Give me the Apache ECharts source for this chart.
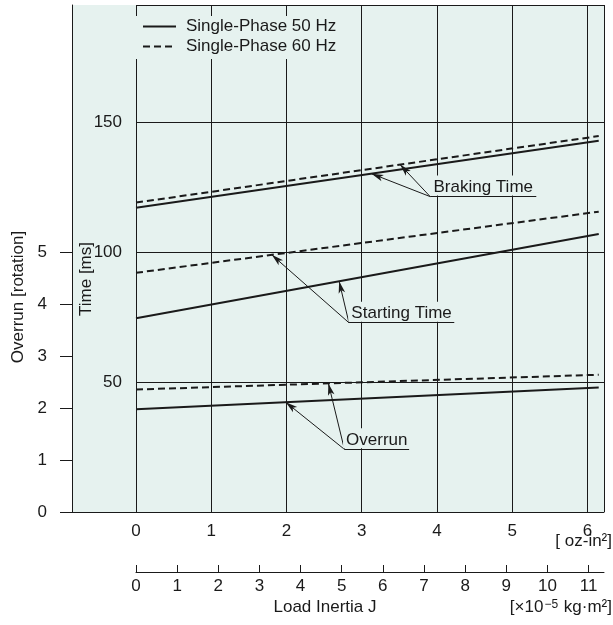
<!DOCTYPE html>
<html>
<head>
<meta charset="utf-8">
<script src="https://cdn.jsdelivr.net/npm/echarts@6/dist/echarts.min.js"></script>
<style>
html,body{margin:0;padding:0;background:#fff;}
#chart{width:613px;height:625px;}
</style>
</head>
<body>
<div id="chart"></div>
<script>
// ---------- data ----------
const inertiaOz = [0, 6.15];               // load inertia J [oz-in^2]
const braking50 = [117.0, 142.8];          // braking time [ms], 50 Hz
const braking60 = [119.0, 144.6];          // braking time [ms], 60 Hz
const starting50 = [74.5, 106.9];          // starting time [ms], 50 Hz
const starting60 = [92.0, 115.5];          // starting time [ms], 60 Hz
const overrun50 = [1.98, 2.40];            // overrun [rotation], 50 Hz
const overrun60 = [2.36, 2.645];           // overrun [rotation], 60 Hz
const overrunTicks = [0, 1, 2, 3, 4, 5];
const timeTicks = [50, 100, 150];
const ozTicks = [0, 1, 2, 3, 4, 5, 6];
const kgTicks = [0, 1, 2, 3, 4, 5, 6, 7, 8, 9, 10, 11];
const seriesNames = ['Single-Phase 50 Hz', 'Single-Phase 60 Hz'];
const OZ_TO_KG = 1.829;                    // 1 oz-in^2 = 1.829 x10^-5 kg.m^2

// annotation anchors (data units): underline start/end x, underline level, arrow tip x per series
const annBraking = { text: 'Braking Time', x1: 3.91, x2: 5.32, level: 121.3, tip50: 3.13, tip60: 3.51 };
const annStarting = { text: 'Starting Time', x1: 2.83, x2: 4.23, level: 72.8, tip50: 2.70, tip60: 1.805 };
const annOverrun = { text: 'Overrun', x1: 2.77, x2: 3.63, level: 1.208, tip50: 1.99, tip60: 2.557 };

// ---------- style ----------
const BG = '#e6f2ef';
const INK = '#1a1a1a';
const FONT = "'Liberation Sans', Arial, sans-serif";
const FS = 17;
const OVR_MAX = 9.77, TIME_MAX = 195, OZ_MAX = 6.22;

function pairs(xs, ys) { return xs.map((x, i) => [x, ys[i]]); }
function interp(xs, ys, x) { return ys[0] + (ys[1] - ys[0]) * (x - xs[0]) / (xs[1] - xs[0]); }

function leader(ann, tipX, ys, withLabel) {
  const items = [[
    { coord: [ann.x1, ann.level], symbol: 'none' },
    { coord: [tipX, interp(inertiaOz, ys, tipX)], symbol: 'arrow' }
  ]];
  if (withLabel) {
    items.push([
      { coord: [ann.x1, ann.level], symbol: 'none',
        label: { show: true, formatter: ann.text, position: 'insideMiddleTop', distance: 1,
                 color: INK, fontFamily: FONT, fontSize: FS, backgroundColor: BG, padding: [3, 3, 0, 3] } },
      { coord: [ann.x2, ann.level], symbol: 'none' }
    ]);
  }
  return {
    silent: true, animation: false, symbolSize: [5, 12],
    lineStyle: { color: INK, width: 1, type: 'solid' },
    itemStyle: { color: INK },
    label: { show: false },
    data: items
  };
}

function lineSeries(name, ys, yIdx, dashed, ml) {
  return {
    type: 'line', name: name, xAxisIndex: 1, yAxisIndex: yIdx,
    data: pairs(inertiaOz, ys), showSymbol: false, symbol: 'none',
    lineStyle: { color: INK, width: 2, type: dashed ? [7, 4] : 'solid' },
    itemStyle: { color: INK },
    markLine: ml, z: 3
  };
}

const chart = echarts.init(document.getElementById('chart'), null, { renderer: 'canvas' });
const option = {
  animation: false,
  backgroundColor: '#fff',
  textStyle: { fontFamily: FONT, color: INK },
  grid: [
    { left: 72, right: 9, top: 5, bottom: 113, show: true, backgroundColor: BG, borderWidth: 0 },
    { left: 136, right: 9, top: 5, bottom: 113, show: false },
    { left: 136, right: 9, top: 540, bottom: 53, show: false }
  ],
  legend: {
    data: seriesNames, orient: 'vertical', left: 136, top: 16,
    itemWidth: 33, itemHeight: 14, itemGap: 3, padding: [2, 8, 4, 6],
    backgroundColor: BG, selectedMode: false,
    itemStyle: { opacity: 0 },
    textStyle: { fontFamily: FONT, fontSize: FS, color: INK, padding: [0, 0, 0, 5] }
  },
  xAxis: [
    { gridIndex: 0, type: 'value', min: 0, max: 1,
      axisLine: { show: true, onZero: false, lineStyle: { color: INK, width: 1 } },
      axisTick: { show: false }, axisLabel: { show: false }, splitLine: { show: false } },
    { gridIndex: 1, type: 'value', min: 0, max: OZ_MAX, interval: 1,
      axisLine: { show: false }, axisTick: { show: false },
      axisLabel: { show: true, customValues: ozTicks, margin: 11, fontSize: FS, fontFamily: FONT, color: INK },
      splitLine: { show: true, lineStyle: { color: INK, width: 1 } } },
    { gridIndex: 2, type: 'value', min: 0, max: OZ_MAX * OZ_TO_KG, interval: 1,
      axisLine: { show: true, onZero: false, lineStyle: { color: INK, width: 1 } },
      axisTick: { show: true, inside: true, length: 7, customValues: kgTicks, lineStyle: { color: INK } },
      axisLabel: { show: true, customValues: kgTicks, margin: 6, fontSize: FS, fontFamily: FONT, color: INK },
      splitLine: { show: false } }
  ],
  yAxis: [
    { gridIndex: 0, type: 'value', min: 0, max: OVR_MAX, position: 'left',
      axisLine: { show: true, onZero: false, lineStyle: { color: INK, width: 1 } },
      axisTick: { show: true, length: 12, customValues: overrunTicks, lineStyle: { color: INK } },
      axisLabel: { show: true, customValues: overrunTicks, margin: 25, fontSize: FS, fontFamily: FONT, color: INK },
      splitLine: { show: false } },
    { gridIndex: 1, type: 'value', min: 0, max: TIME_MAX, interval: 50, position: 'left',
      axisLine: { show: false }, axisTick: { show: false },
      axisLabel: { show: true, customValues: timeTicks, margin: 14, fontSize: FS, fontFamily: FONT, color: INK },
      splitLine: { show: true, lineStyle: { color: INK, width: 1 } } },
    { gridIndex: 1, type: 'value', min: 0, max: OVR_MAX, show: false, splitLine: { show: false } },
    { gridIndex: 2, type: 'value', min: 0, max: 1, show: false, splitLine: { show: false } }
  ],
  series: [
    lineSeries(seriesNames[0], braking50, 1, false, leader(annBraking, annBraking.tip50, braking50, true)),
    lineSeries(seriesNames[1], braking60, 1, true, leader(annBraking, annBraking.tip60, braking60, false)),
    lineSeries(seriesNames[0], starting50, 1, false, leader(annStarting, annStarting.tip50, starting50, true)),
    lineSeries(seriesNames[1], starting60, 1, true, leader(annStarting, annStarting.tip60, starting60, false)),
    lineSeries(seriesNames[0], overrun50, 2, false, leader(annOverrun, annOverrun.tip50, overrun50, true)),
    lineSeries(seriesNames[1], overrun60, 2, true, leader(annOverrun, annOverrun.tip60, overrun60, false))
  ],
  graphic: [
    { type: 'text', x: 18, y: 297, rotation: Math.PI / 2, silent: true,
      style: { text: 'Overrun [rotation]', font: FS + 'px ' + FONT, fill: INK, align: 'center', verticalAlign: 'middle' } },
    { type: 'text', x: 86, y: 279, rotation: Math.PI / 2, silent: true,
      style: { text: 'Time [ms]', font: FS + 'px ' + FONT, fill: INK, align: 'center', verticalAlign: 'middle' } },
    { type: 'text', x: 612, y: 541, silent: true,
      style: { text: '[ oz-in²]', font: FS + 'px ' + FONT, fill: INK, align: 'right', verticalAlign: 'middle' } },
    { type: 'text', x: 325, y: 607, silent: true,
      style: { text: 'Load Inertia J', font: FS + 'px ' + FONT, fill: INK, align: 'center', verticalAlign: 'middle' } },
    { type: 'text', x: 612, y: 607, silent: true,
      style: { text: '[×10{sup|−5} kg·m²]', font: FS + 'px ' + FONT, fill: INK, align: 'right', verticalAlign: 'middle',
               rich: { sup: { fontSize: 12, fontFamily: FONT, fill: INK, verticalAlign: 'top', padding: [0, 1, 5, 1] } } } }
  ]
};
chart.setOption(option);
</script>
</body>
</html>
